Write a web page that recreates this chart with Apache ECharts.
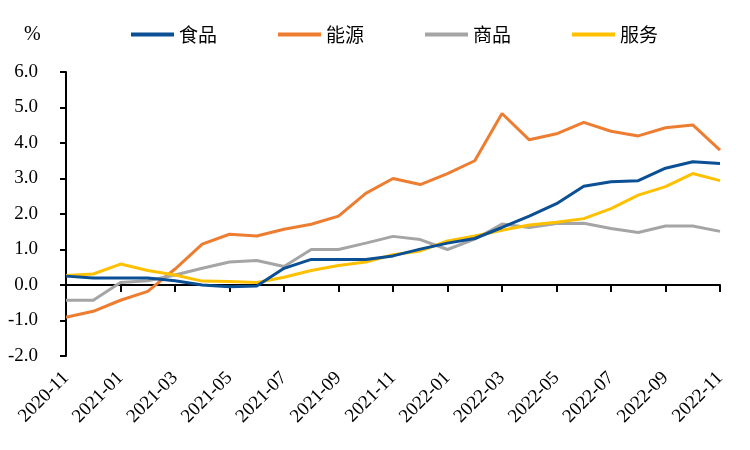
<!DOCTYPE html>
<html>
<head>
<meta charset="utf-8">
<script src="https://cdn.jsdelivr.net/npm/echarts@6/dist/echarts.min.js"></script>
<style>html,body{margin:0;padding:0;background:#fff}#c{width:750px;height:450px}</style>
</head>
<body>
<div id="c"></div>
<script>
var categories = ['2020-11','2020-12','2021-01','2021-02','2021-03','2021-04','2021-05','2021-06','2021-07','2021-08','2021-09','2021-10','2021-11','2021-12','2022-01','2022-02','2022-03','2022-04','2022-05','2022-06','2022-07','2022-08','2022-09','2022-10','2022-11'];
var food = [0.25,0.2,0.2,0.2,0.12,0.0,-0.05,-0.03,0.47,0.72,0.72,0.72,0.82,1.01,1.18,1.31,1.62,1.94,2.29,2.78,2.91,2.94,3.29,3.47,3.42];
var energy = [-0.91,-0.74,-0.43,-0.18,0.45,1.15,1.43,1.38,1.57,1.71,1.94,2.58,3.0,2.83,3.14,3.5,4.83,4.09,4.26,4.58,4.33,4.2,4.43,4.51,3.8];
var goods = [-0.43,-0.43,0.07,0.12,0.28,0.47,0.65,0.69,0.52,1.0,1.0,1.18,1.37,1.28,1.0,1.29,1.72,1.62,1.73,1.74,1.59,1.48,1.66,1.66,1.51];
var services = [0.27,0.31,0.59,0.41,0.28,0.11,0.1,0.07,0.22,0.41,0.55,0.65,0.85,0.96,1.24,1.38,1.54,1.69,1.77,1.87,2.15,2.53,2.77,3.14,2.94];
var seriesNames = ['食品','能源','商品','服务'];
var colors = ['#0B4F94','#ED7D31','#A5A5A5','#FFC000'];

var serif = 'Liberation Serif';
var cjk = 'Noto Sans CJK SC';
var chart = echarts.init(document.getElementById('c'));
var dataSets = [food, energy, goods, services];
chart.setOption({
  animation: false,
  color: colors,
  title: {text: '%', left: 19, top: 20, textStyle: {fontFamily: serif, fontSize: 20, fontWeight: 'normal', color: '#000'}},
  legend: {
    data: seriesNames, left: 126, top: 20, itemWidth: 43, itemHeight: 4, itemGap: 61,
    icon: 'rect',
    textStyle: {fontFamily: cjk, fontSize: 19, color: '#000'}
  },
  grid: {left: 66, right: 30, top: 72, bottom: 94},
  xAxis: [{
    type: 'category', data: categories, boundaryGap: false, position: 'bottom',
    axisLine: {onZero: true, lineStyle: {color: '#000', width: 2}},
    axisTick: {show: true, interval: 1, length: 7, lineStyle: {color: '#000', width: 2}},
    axisLabel: {show: false}, splitLine: {show: false}
  },{
    type: 'category', data: categories, boundaryGap: false, position: 'bottom',
    axisLine: {show: false, onZero: false}, axisTick: {show: false},
    axisLabel: {show: true, interval: 1, rotate: 45, margin: 19, fontFamily: serif, fontSize: 19, color: '#000'},
    splitLine: {show: false}
  }],
  yAxis: {
    type: 'value', min: -2, max: 6, interval: 1,
    axisLine: {show: true, onZero: false, lineStyle: {color: '#000', width: 2}},
    axisTick: {show: true, length: 6, lineStyle: {color: '#000', width: 2}},
    axisLabel: {margin: 28, fontFamily: serif, fontSize: 19, color: '#000', formatter: function(v){return v.toFixed(1);}},
    splitLine: {show: false}
  },
  series: seriesNames.map(function(n, i){
    return {name: n, type: 'line', xAxisIndex: 0, data: dataSets[i], symbol: 'none', lineStyle: {width: 3, color: colors[i]}, z: 2 + (i === 0 ? 1 : 0)};
  })
});
</script>
</body>
</html>
